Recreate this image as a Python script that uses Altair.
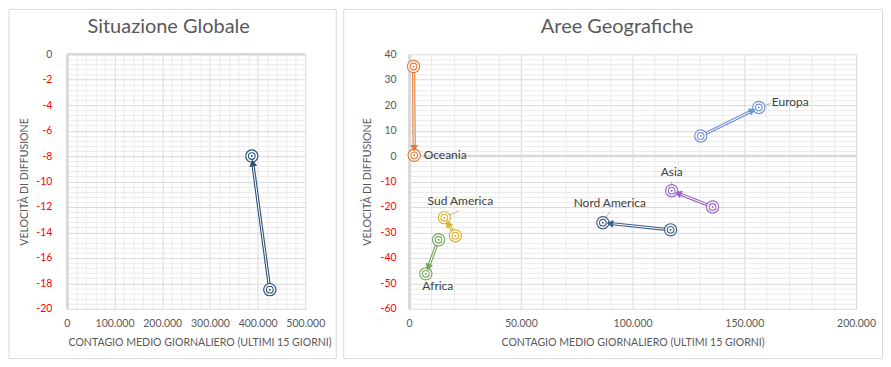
import math
import altair as alt
import pandas as pd

# ------------------------------------------------------------------ data
panel_titles = ["Situazione Globale", "Aree Geografiche"]
x_title = "CONTAGIO MEDIO GIORNALIERO (ULTIMI 15 GIORNI)"
y_title = "VELOCITÀ DI DIFFUSIONE"

# Global situation: first point (start) -> second point (end)
global_name = ["Globale"]
global_x_start = [425500]
global_y_start = [-18.5]
global_x_end = [387800]
global_y_end = [-8.0]

# Geographic areas
regions = ["Europa", "Asia", "Nord America", "Sud America", "Africa", "Oceania"]
x_start = [130500, 135800, 117000, 20700, 13200, 2000]
y_start = [7.9, -20.0, -29.0, -31.3, -32.9, 35.2]
x_end = [156500, 117500, 86700, 15800, 7500, 2300]
y_end = [19.1, -13.6, -26.2, -24.2, -46.3, 0.3]

left_x_ticks = [0, 100000, 200000, 300000, 400000, 500000]
left_y_ticks = [-20, -18, -16, -14, -12, -10, -8, -6, -4, -2, 0]
right_x_ticks = [0, 50000, 100000, 150000, 200000]
right_y_ticks = [-60, -50, -40, -30, -20, -10, 0, 10, 20, 30, 40]

# ------------------------------------------------------------------ styles
colors = ["#7293D6", "#9B63C9", "#3F6087", "#DDB02E", "#78A65A", "#E07C3A"]
global_color = ["#2F5276"]
all_names = global_name + regions
all_colors = global_color + colors
FONT = "Lato"
TXT = "#595959"
GRID = "#D9D9D9"
MINOR = "#EBEBEB"

LW, LH = 239, 255
RW, RH = 448, 255
L_XDOM, L_YDOM = [0, 500000], [-20, 0]
R_XDOM, R_YDOM = [0, 200000], [-60, 40]

# label placement (pixel offsets from end point): dx, dy, align, leader(from, to)
label_style = {
    "Europa": (13, -5, "left", (5.5, -2), (12, -4)),
    "Asia": (0, -18.5, "center", (0, -9), (0, -4.5)),
    "Nord America": (7, -20, "center", (3.5, -5.5), (6.5, -10.5)),
    "Sud America": (16, -16.5, "center", (5.5, -2.5), (15, -7)),
    "Africa": (12, 12.5, "center", None, None),
    "Oceania": (9.5, 0, "left", None, None),
}


def arrow_geom(xs, ys, xe, ye, W, H, xdom, ydom, back=7.0):
    sx = W / (xdom[1] - xdom[0])
    sy = H / (ydom[1] - ydom[0])
    dxp = (xe - xs) * sx
    dyp = -(ye - ys) * sy
    L = math.hypot(dxp, dyp)
    ux, uy = dxp / L, dyp / L
    ang = math.degrees(math.atan2(dxp, -dyp)) % 360
    return xe - back * ux / sx, ye + back * uy / sy, ang


def build_frames(names, xs, ys, xe, ye, W, H, xdom, ydom):
    lines, pts, arrows = [], [], []
    for n, a, b, c, d in zip(names, xs, ys, xe, ye):
        lines.append({"name": n, "step": 0, "x": a, "y": b})
        lines.append({"name": n, "step": 1, "x": c, "y": d})
        pts.append({"name": n, "x": a, "y": b})
        pts.append({"name": n, "x": c, "y": d})
        ax, ay, ang = arrow_geom(a, b, c, d, W, H, xdom, ydom)
        arrows.append({"name": n, "x": ax, "y": ay, "angle": ang})
    return pd.DataFrame(lines), pd.DataFrame(pts), pd.DataFrame(arrows)


def minor_vals(lo, hi, step, majors):
    out = []
    v = lo
    while v <= hi + 1e-9:
        if all(abs(v - m) > 1e-9 for m in majors):
            out.append(round(v, 6))
        v += step
    return out


def panel(names, xs, ys, xe, ye, W, H, xdom, ydom, xticks, yticks,
          xminor_step, yminor_step, border, title_pos, xtitle_x, ylab_pad, labels=False):
    lines_df, pts_df, arrows_df = build_frames(names, xs, ys, xe, ye, W, H, xdom, ydom)
    xs_ = alt.Scale(domain=xdom, nice=False, zero=False)
    ys_ = alt.Scale(domain=ydom, nice=False, zero=False)
    cscale = alt.Scale(domain=all_names, range=all_colors)

    minor_x = minor_vals(xdom[0], xdom[1], xminor_step, xticks)
    minor_y = minor_vals(ydom[0], ydom[1], yminor_step, yticks)

    base_minor = alt.Chart(pts_df).mark_point(opacity=0).encode(
        x=alt.X("x:Q", scale=xs_, axis=alt.Axis(
            values=minor_x, orient="bottom", grid=True, gridColor=MINOR, gridWidth=1,
            labels=False, ticks=False, domain=False, title=None)),
        y=alt.Y("y:Q", scale=ys_, axis=alt.Axis(
            values=minor_y, orient="left", grid=True, gridColor=MINOR, gridWidth=1,
            labels=False, ticks=False, domain=False, title=None)),
    )

    major = alt.Chart(pts_df).mark_point(opacity=0).encode(
        x=alt.X("x:Q", scale=xs_, axis=alt.Axis(
            values=xticks, orient="bottom", format=",d", grid=True, gridColor=GRID,
            gridWidth=1, ticks=False, domain=False, labelColor=TXT, labelFont=FONT,
            labelFontSize=10.5, labelPadding=15, labelBaseline="middle",
            labelFlush=False, labelOverlap=False,
            title=x_title, titleFont=FONT, titleFontSize=10.6, titleFontWeight="normal",
            titleColor=TXT, titleX=xtitle_x, titleY=34, titleBaseline="middle",
            titleAlign="center")),
        y=alt.Y("y:Q", scale=ys_, axis=alt.Axis(
            values=yticks, orient="left", format="d", grid=True, gridColor=GRID,
            gridWidth=1, ticks=False, domain=True, domainColor=GRID, domainWidth=3,
            labelColor=alt.condition("datum.value < 0", alt.value("#FF0000"), alt.value(TXT)),
            labelFont=FONT, labelFontSize=10.5, labelPadding=ylab_pad,
            labelOverlap=False,
            title=y_title, titleFont=FONT, titleFontSize=10.6, titleFontWeight="normal",
            titleColor=TXT, titleX=-37, titleY=H / 2, titleAngle=-90,
            titleBaseline="bottom", titleAlign="center")),
    )

    enc_x = alt.X("x:Q", scale=xs_, axis=None)
    enc_y = alt.Y("y:Q", scale=ys_, axis=None)
    col = alt.Color("name:N", scale=cscale, legend=None)
    strk = alt.Stroke("name:N", scale=cscale, legend=None)

    one = pd.DataFrame({"t": [0]})
    zero_line = alt.Chart(one).mark_rule(color=GRID, strokeWidth=2.5).encode(
        y=alt.Y("t:Q", scale=ys_, axis=None))

    bx1, bx2, by1, by2 = border
    frame = alt.Chart(one).mark_rect(fillOpacity=0, stroke=GRID, strokeWidth=1).encode(
        x=alt.value(bx1), x2=alt.value(bx2), y=alt.value(by1), y2=alt.value(by2))

    ttl = alt.Chart(pd.DataFrame({"t": [title_pos[2]]})).mark_text(
        font=FONT, fontSize=20, color=TXT, baseline="alphabetic", align="center").encode(
        x=alt.value(title_pos[0]), y=alt.value(title_pos[1]), text="t:N")

    line_c = alt.Chart(lines_df).mark_line(strokeWidth=3.2).encode(
        x=enc_x, y=enc_y, color=col, detail="name:N", order="step:Q")
    line_w = alt.Chart(lines_df).mark_line(strokeWidth=1.0, color="white").encode(
        x=enc_x, y=enc_y, detail="name:N", order="step:Q")
    outer = alt.Chart(pts_df).mark_circle(size=150, strokeWidth=1.2, opacity=1).encode(
        x=enc_x, y=enc_y, fill=alt.value("white"), stroke=strk)
    inner = alt.Chart(pts_df).mark_circle(size=45, strokeWidth=1.1, opacity=1).encode(
        x=enc_x, y=enc_y, fill=alt.value("white"), stroke=strk)
    dot = alt.Chart(pts_df).mark_circle(size=4, opacity=1).encode(
        x=enc_x, y=enc_y, color=col)
    arrows = alt.Chart(arrows_df).mark_point(
        shape="triangle-up", size=62, filled=True, opacity=1).encode(
        x=enc_x, y=enc_y, color=col, angle=alt.Angle("angle:Q", scale=None))

    layers = [frame, base_minor, major, zero_line, line_c, line_w, outer, inner, dot, arrows, ttl]

    if labels:
        sx = W / (xdom[1] - xdom[0])
        sy = H / (ydom[1] - ydom[0])
        lead = []
        for n, a, b in zip(names, xe, ye):
            st = label_style[n]
            if st[3] is not None:
                lead.append({"name": n,
                             "x": a + st[3][0] / sx, "y": b - st[3][1] / sy,
                             "x2": a + st[4][0] / sx, "y2": b - st[4][1] / sy})
        lead_df = pd.DataFrame(lead)
        layers.insert(4, alt.Chart(lead_df).mark_rule(color="#A6A6A6", strokeWidth=0.8).encode(
            x=enc_x, y=enc_y, x2="x2:Q", y2="y2:Q"))
        lab_df = pd.DataFrame({"name": names, "x": xe, "y": ye})
        for n in names:
            dx, dy, al = label_style[n][:3]
            layers.append(alt.Chart(lab_df).transform_filter(
                alt.datum.name == n).mark_text(
                font=FONT, fontSize=12, color="#404040", align=al, baseline="middle",
                dx=dx, dy=dy).encode(x=enc_x, y=enc_y, text="name:N"))

    return alt.layer(*layers).resolve_axis(x="independent", y="independent").properties(
        width=W, height=H)


left = panel(global_name, global_x_start, global_y_start,
             global_x_end, global_y_end, LW, LH, L_XDOM, L_YDOM,
             left_x_ticks, left_y_ticks, 20000, 0.4,
             border=(-58, 270, -45, 305), title_pos=(102, -21.5, panel_titles[0]),
             xtitle_x=133, ylab_pad=15)

right = panel(regions, x_start, y_start, x_end, y_end, RW, RH, R_XDOM, R_YDOM,
              right_x_ticks, right_y_ticks, 10000, 2,
              border=(-65.5, 474.5, -45, 305), title_pos=(208.5, -21.5, panel_titles[1]),
              xtitle_x=RW / 2, ylab_pad=13, labels=True)

chart = alt.hconcat(left, right, spacing=6).properties(
    padding=0, background="white"
).configure(
    font=FONT,
    locale={"number": {"decimal": ",", "thousands": ".", "grouping": [3],
                       "currency": ["", " €"], "minus": "-"}},
).configure_view(stroke=None)

chart.save("out.html", embed_options={"renderer": "svg", "actions": False})
